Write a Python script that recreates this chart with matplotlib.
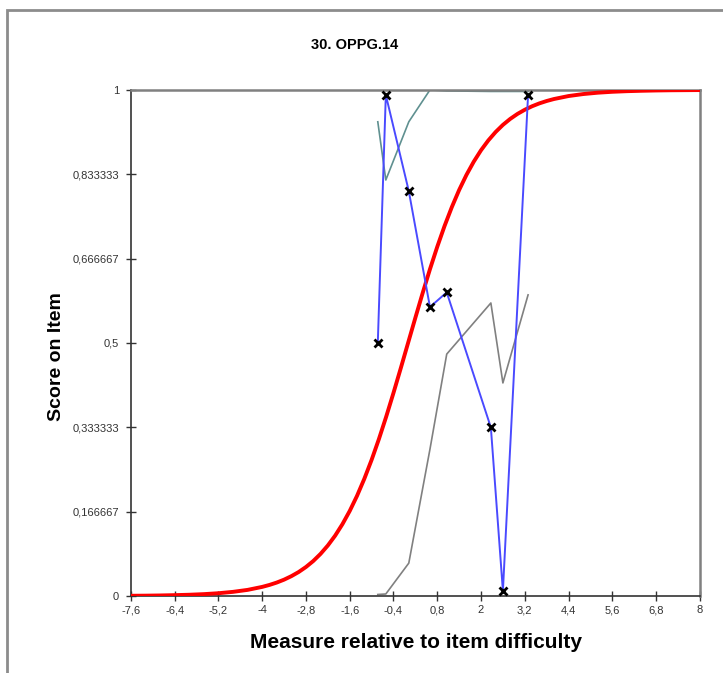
import matplotlib.pyplot as plt
from matplotlib.patches import Rectangle

# valori
x_obs = [-0.83, -0.61, 0.02, 0.6, 1.06, 2.27, 2.6, 3.29]
score_obs = [0.5, 0.99, 0.8, 0.571, 0.6, 0.333, 0.01, 0.99]
upper_ci = [0.937, 0.822, 0.937, 1.0, 0.998, 0.997, 0.997, 0.997]
lower_ci = [0.003, 0.004, 0.065, 0.29, 0.478, 0.579, 0.421, 0.595]

# curva del modello (punti letti lungo la linea rossa)
x_model = [-7.6, -7.2, -6.8, -6.4, -6.0, -5.6, -5.2, -4.8, -4.4, -4.0,
           -3.8, -3.6, -3.4, -3.2, -3.0, -2.8, -2.6, -2.4, -2.2, -2.0,
           -1.8, -1.6, -1.4, -1.2, -1.0, -0.8, -0.6, -0.4, -0.2, 0.0,
           0.2, 0.4, 0.6, 0.8, 1.0, 1.2, 1.4, 1.6, 1.8, 2.0,
           2.2, 2.4, 2.6, 2.8, 3.0, 3.2, 3.4, 3.6, 3.8, 4.0,
           4.4, 4.8, 5.2, 5.6, 6.0, 6.4, 6.8, 7.2, 7.6, 8.0]
score_model = [0.0005, 0.0007, 0.0011, 0.0017, 0.0025, 0.0037, 0.0055, 0.0082, 0.0121, 0.018,
               0.0219, 0.0266, 0.0323, 0.0392, 0.0474, 0.0573, 0.0691, 0.0832, 0.0998, 0.1192,
               0.1419, 0.168, 0.1978, 0.2315, 0.2689, 0.31, 0.3543, 0.4013, 0.4502, 0.5,
               0.5498, 0.5987, 0.6457, 0.69, 0.7311, 0.7685, 0.8022, 0.832, 0.8581, 0.8808,
               0.9002, 0.9168, 0.9309, 0.9427, 0.9526, 0.9608, 0.9677, 0.9734, 0.9781, 0.982,
               0.9879, 0.9918, 0.9945, 0.9963, 0.9975, 0.9983, 0.9989, 0.9993, 0.9995, 0.9997]

x_ticks = [-7.6, -6.4, -5.2, -4.0, -2.8, -1.6, -0.4, 0.8, 2.0, 3.2, 4.4, 5.6, 6.8, 8.0]
x_ticklabels = ["-7,6", "-6,4", "-5,2", "-4", "-2,8", "-1,6", "-0,4", "0,8", "2", "3,2",
                "4,4", "5,6", "6,8", "8"]
y_ticks = [0, 1/6, 2/6, 3/6, 4/6, 5/6, 1]
y_ticklabels = ["0", "0,166667", "0,333333", "0,5", "0,666667", "0,833333", "1"]

plt.rcParams['font.family'] = ['Liberation Sans', 'DejaVu Sans']

fig = plt.figure(figsize=(7.23, 6.73), dpi=100)
ax = fig.add_axes([0.181, 0.1144, 0.787, 0.752])

# cornice esterna stile Excel
fig.patches.append(Rectangle((0.0097, -0.05), 1.1, 1.035, transform=fig.transFigure,
                             fill=False, edgecolor='#8c8c8c', linewidth=2))

ax.plot(x_model, score_model, color='#ff0000', linewidth=2.8, zorder=3)
ax.plot(x_obs, upper_ci, color='#5f9090', linewidth=1.2, zorder=2)
ax.plot(x_obs, lower_ci, color='#808080', linewidth=1.2, zorder=2)
ax.plot(x_obs, score_obs, color='#4a4aff', linewidth=1.4, zorder=4,
        marker='x', markersize=5.5, markeredgewidth=2, markeredgecolor='black')

ax.set_xlim(-7.6, 8)
ax.set_ylim(0, 1)
ax.set_xticks(x_ticks)
ax.set_xticklabels(x_ticklabels, fontsize=8)
ax.set_yticks(y_ticks)
ax.set_yticklabels(y_ticklabels, fontsize=8)
ax.tick_params(direction='inout', length=7, width=1, colors='#333333')
ax.tick_params(axis='x', pad=3)
ax.tick_params(axis='y', pad=5)

for s in ['left', 'bottom']:
    ax.spines[s].set_color('#333333')
    ax.spines[s].set_linewidth(1.2)
for s in ['top', 'right']:
    ax.spines[s].set_color('#808080')
    ax.spines[s].set_linewidth(1.8)

fig.text(0.49, 0.933, "30. OPPG.14", ha='center', va='center', fontsize=10.5, fontweight='bold')
fig.text(0.575, 0.046, "Measure relative to item difficulty", ha='center', va='center',
         fontsize=15, fontweight='bold')
fig.text(0.078, 0.47, "Score on Item", ha='center', va='center', rotation=90,
         fontsize=14, fontweight='bold')

fig.savefig("out.png", dpi=100)
